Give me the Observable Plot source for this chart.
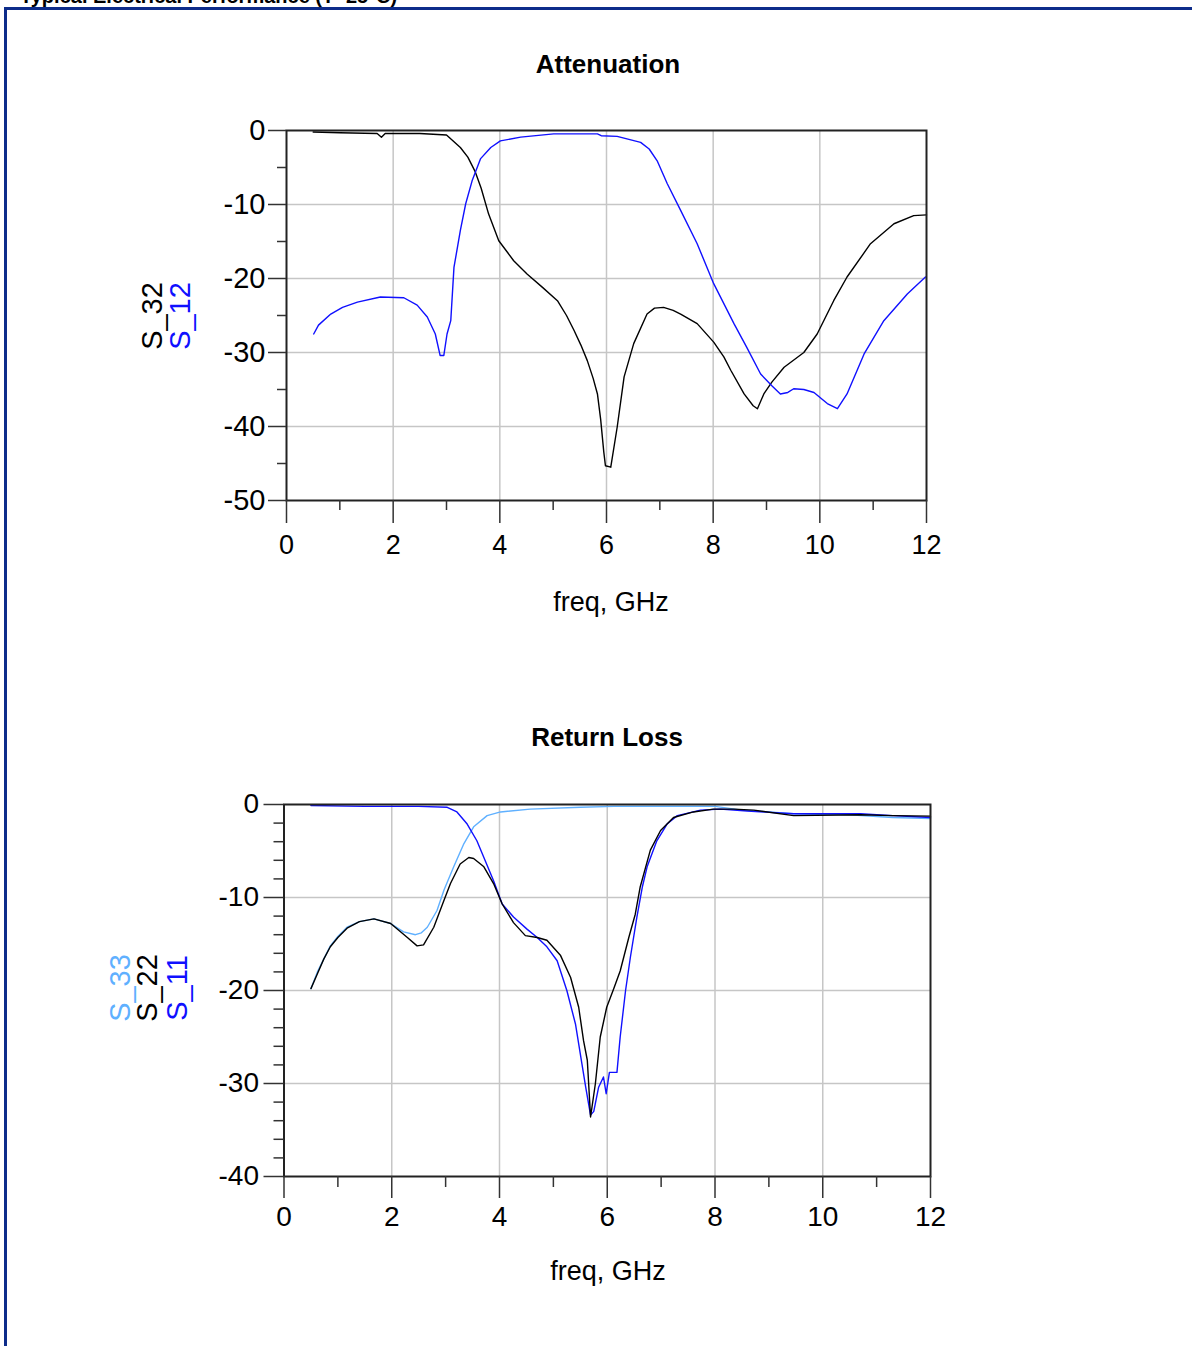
<!DOCTYPE html>
<html><head><meta charset="utf-8">
<script src="https://cdn.jsdelivr.net/npm/d3@7"></script>
<script src="https://cdn.jsdelivr.net/npm/@observablehq/plot@0.6"></script>
<style>
html,body{margin:0;padding:0;background:#fff;}
body{width:1192px;height:1346px;position:relative;overflow:hidden;font-family:"Liberation Sans",Arial,sans-serif;}
#frame{position:absolute;left:4px;top:7px;width:3000px;height:3000px;border:3px solid #0d2c8a;box-sizing:border-box;}
#cut{position:absolute;left:20px;top:-15px;font-weight:bold;font-size:20px;white-space:nowrap;color:#000;}
.chart{position:absolute;left:0;}
</style></head><body>
<div id="cut">Typical Electrical Performance (T=25°C)</div>
<div id="frame"></div>
<div id="c1" class="chart" style="top:0px"></div>
<div id="c2" class="chart" style="top:680px"></div>
<script>
// ---------- Attenuation ----------
const s32Freq = [0.5,1.0,1.7,1.78,1.85,2.5,3.0,3.26,3.4,3.54,3.65,3.79,3.98,4.26,4.51,4.8,5.08,5.25,5.39,5.52,5.64,5.75,5.83,5.89,5.95,5.98,6.08,6.2,6.33,6.51,6.76,6.9,7.07,7.25,7.39,7.7,8.01,8.2,8.33,8.58,8.75,8.83,8.95,9.1,9.33,9.7,9.95,10.26,10.51,10.95,11.39,11.76,12.0];
const s32dB   = [-0.2,-0.3,-0.4,-0.9,-0.4,-0.4,-0.6,-2.3,-3.6,-5.6,-7.8,-11.3,-14.9,-17.6,-19.4,-21.2,-23.0,-25.0,-27.0,-29.0,-31.1,-33.5,-35.6,-39.0,-43.5,-45.3,-45.5,-40.1,-33.3,-28.8,-24.8,-24.0,-23.9,-24.3,-24.8,-26.1,-28.6,-30.6,-32.4,-35.6,-37.2,-37.6,-35.6,-34.0,-32.0,-30.0,-27.5,-23.0,-19.8,-15.3,-12.6,-11.5,-11.4];
const s12Freq = [0.51,0.6,0.83,1.05,1.33,1.76,2.2,2.45,2.64,2.79,2.88,2.95,3.01,3.08,3.14,3.26,3.36,3.48,3.64,3.83,4.01,4.39,5.01,5.83,5.9,6.2,6.64,6.8,6.95,7.14,7.39,7.7,8.01,8.39,8.63,8.89,9.1,9.26,9.4,9.51,9.7,9.89,10.14,10.33,10.51,10.83,11.2,11.64,11.98];
const s12dB   = [-27.5,-26.3,-24.8,-23.9,-23.2,-22.5,-22.6,-23.6,-25.2,-27.5,-30.4,-30.4,-27.5,-25.7,-18.5,-13.5,-9.9,-6.8,-3.8,-2.3,-1.4,-0.9,-0.45,-0.45,-0.7,-0.8,-1.6,-2.5,-4.1,-7.2,-10.8,-15.3,-20.7,-26.1,-29.3,-32.9,-34.5,-35.6,-35.4,-34.9,-35.0,-35.4,-36.9,-37.6,-35.6,-30.2,-25.7,-22.1,-19.8];

// ---------- Return Loss ----------
const s33Freq = [0.5,0.62,0.74,0.86,1.0,1.17,1.4,1.67,1.98,2.22,2.44,2.55,2.66,2.84,2.97,3.15,3.34,3.52,3.77,4.02,4.57,5.5,6.12,7.0,8.0,8.5,9.46,10.5,11.3,12.0];
const s33dB   = [-19.8,-18.0,-16.6,-15.2,-14.2,-13.2,-12.6,-12.3,-12.8,-13.7,-14.0,-13.8,-13.2,-11.4,-9.2,-6.7,-4.2,-2.4,-1.2,-0.8,-0.5,-0.3,-0.2,-0.2,-0.2,-0.6,-1.0,-1.1,-1.4,-1.5];
const s22Freq = [0.5,0.62,0.74,0.86,1.0,1.17,1.4,1.67,1.98,2.29,2.47,2.59,2.78,2.97,3.09,3.27,3.43,3.52,3.71,3.89,4.05,4.26,4.48,4.7,4.88,5.13,5.32,5.47,5.56,5.63,5.69,5.78,5.87,5.99,6.12,6.24,6.4,6.52,6.61,6.8,6.99,7.23,7.6,7.97,8.35,8.72,9.46,10.7,11.3,12.0];
const s22dB   = [-19.8,-18.2,-16.6,-15.3,-14.3,-13.3,-12.6,-12.3,-12.8,-14.3,-15.2,-15.1,-13.2,-10.3,-8.5,-6.4,-5.7,-5.8,-6.7,-8.5,-10.7,-12.7,-14.1,-14.3,-14.6,-16.2,-18.6,-21.8,-25.4,-27.5,-33.6,-30.0,-25.0,-21.8,-19.8,-17.9,-14.3,-11.8,-8.9,-4.9,-2.8,-1.4,-0.8,-0.5,-0.5,-0.6,-1.2,-1.1,-1.2,-1.25];
const s11Freq = [0.5,1.5,2.5,3.03,3.21,3.4,3.58,3.71,3.89,4.05,4.26,4.51,4.7,4.88,5.07,5.25,5.41,5.53,5.6,5.69,5.75,5.84,5.93,5.98,6.04,6.18,6.24,6.34,6.43,6.55,6.65,6.74,6.92,7.11,7.3,7.73,8.1,8.6,9.46,10.7,11.3,12.0];
const s11dB   = [-0.1,-0.2,-0.2,-0.3,-0.8,-2.1,-3.9,-5.7,-8.2,-10.7,-12.1,-13.4,-14.3,-15.3,-16.8,-20.0,-23.6,-27.9,-30.4,-33.4,-33.0,-30.4,-29.3,-31.1,-28.8,-28.8,-25.0,-20.0,-16.4,-12.1,-8.9,-6.7,-3.9,-2.1,-1.2,-0.6,-0.5,-0.7,-1.0,-1.0,-1.2,-1.4];

const xMajor = [0,2,4,6,8,10,12];
const xMinor = [1,3,5,7,9,11];
const xGrid  = [2,4,6,8,10];

const BLACK = "#000000", BLUE = "#1010ff", LIGHT = "#5fb0ff";
const FONT = "Liberation Sans, Arial, sans-serif";

function toRows(freq, db) { return freq.map((f, i) => ({f, v: db[i]})); }

function buildChart(o) {
  const marks = [
    Plot.gridX({ticks: xGrid, stroke: "#c6c6c6", strokeOpacity: 1, strokeWidth: 1.5}),
    Plot.gridY({ticks: o.yGrid, stroke: "#c6c6c6", strokeOpacity: 1, strokeWidth: 1.5}),
    ...o.series.map(s => Plot.line(toRows(s.freq, s.db), {x: "f", y: "v", stroke: s.color, strokeWidth: 1.4})),
    Plot.frame({stroke: "#222", strokeWidth: 2}),
    Plot.axisX({ticks: xMajor, tickSize: o.xMajorSize, tickPadding: o.xPad, tickFormat: d => String(d), stroke: "#333", strokeWidth: 1.5, fill: "#000", fontSize: o.xFont, label: null}),
    Plot.axisX({ticks: xMinor, tickSize: o.xMinorSize, stroke: "#333", strokeWidth: 1.5, fill: "none", label: null}),
    Plot.axisY({ticks: o.yMajor, tickSize: o.yMajorSize, tickPadding: o.yPad, tickFormat: d => String(d), stroke: "#333", strokeWidth: 1.5, fill: "#000", fontSize: o.yFont, label: null}),
    Plot.axisY({ticks: o.yMinor, tickSize: o.yMinorSize, stroke: "#333", strokeWidth: 1.5, fill: "none", label: null})
  ];
  const plot = Plot.plot({
    width: 1192, height: o.height,
    marginLeft: o.ml, marginRight: o.mr, marginTop: o.mt, marginBottom: o.mb,
    x: {domain: [0, 12]},
    y: {domain: o.yDomain},
    style: {fontFamily: FONT, fontSize: "26px", color: "#000", background: "transparent", overflow: "visible"},
    marks
  });
  const svg = d3.select(plot);
  svg.append("text").attr("x", o.titleX).attr("y", o.titleY).attr("text-anchor", "middle")
    .attr("font-weight", "bold").attr("font-size", 26).attr("fill", "#000").text(o.title);
  svg.append("text").attr("x", o.xLabelX).attr("y", o.xLabelY).attr("text-anchor", "middle")
    .attr("font-size", 27).attr("fill", "#000").text("freq, GHz");
  o.legend.forEach(l => {
    svg.append("text").attr("transform", `translate(${l.x},${o.legendY}) rotate(-90)`)
      .attr("text-anchor", "middle").attr("font-size", 29).attr("fill", l.color).text(l.label);
  });
  return plot;
}

const minorTop = [-5,-15,-25,-35,-45];
const minorBot = [-2,-4,-6,-8,-12,-14,-16,-18,-22,-24,-26,-28,-32,-34,-36,-38];

document.getElementById("c1").appendChild(buildChart({
  height: 660, ml: 286, mr: 266, mt: 130, mb: 160,
  yDomain: [-50, 0], yGrid: [-10,-20,-30,-40],
  yMajor: [0,-10,-20,-30,-40,-50], yMinor: minorTop,
  yMajorSize: 18, yMinorSize: 9, yPad: 3, yFont: 29,
  xMajorSize: 23, xMinorSize: 10, xPad: 11, xFont: 27,
  series: [
    {freq: s32Freq, db: s32dB, color: BLACK},
    {freq: s12Freq, db: s12dB, color: BLUE}
  ],
  title: "Attenuation", titleX: 608, titleY: 73,
  xLabelX: 611, xLabelY: 611,
  legendY: 316,
  legend: [
    {label: "S_32", color: BLACK, x: 162},
    {label: "S_12", color: BLUE, x: 190}
  ]
}));

document.getElementById("c2").appendChild(buildChart({
  height: 666, ml: 283.5, mr: 262, mt: 124, mb: 170,
  yDomain: [-40, 0], yGrid: [-10,-20,-30],
  yMajor: [0,-10,-20,-30,-40], yMinor: minorBot,
  yMajorSize: 20, yMinorSize: 10, yPad: 5, yFont: 28,
  xMajorSize: 22, xMinorSize: 11, xPad: 8, xFont: 28,
  series: [
    {freq: s33Freq, db: s33dB, color: LIGHT},
    {freq: s11Freq, db: s11dB, color: BLUE},
    {freq: s22Freq, db: s22dB, color: BLACK}
  ],
  title: "Return Loss", titleX: 607, titleY: 66,
  xLabelX: 608, xLabelY: 600,
  legendY: 308,
  legend: [
    {label: "S_33", color: LIGHT, x: 130},
    {label: "S_22", color: BLACK, x: 157},
    {label: "S_11", color: BLUE, x: 187}
  ]
}));
</script>
</body></html>
